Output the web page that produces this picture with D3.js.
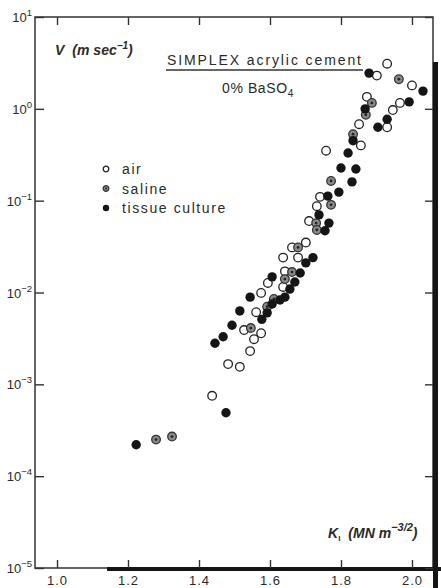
<!DOCTYPE html>
<html>
<head>
<meta charset="utf-8">
<script src="https://cdn.jsdelivr.net/npm/d3@7"></script>
<style>
  body { margin: 0; background: #fff; }
  text { font-family: "Liberation Sans", Arial, sans-serif; fill: #2a2a2a; }
</style>
</head>
<body>
<svg id="chart" width="441" height="588"></svg>
<script>
// K1 (MN m^-3/2) and crack velocity V (m/s)
const airK = [1.930, 1.901, 2.000, 1.873, 1.966, 1.946, 1.930, 1.851, 1.856, 1.758, 1.741, 1.732, 1.710, 1.701, 1.662,
  1.637, 1.679, 1.642, 1.594, 1.637, 1.575, 1.561, 1.527, 1.575, 1.555, 1.544, 1.482, 1.515, 1.437]
const airV = [3.1, 2.3, 1.8, 1.35, 1.16, 0.97, 0.63, 0.68, 0.40, 0.35, 0.11, 0.087, 0.060, 0.035, 0.031,
  0.024, 0.024, 0.017, 0.0127, 0.0115, 0.0099, 0.0061, 0.0039, 0.0036, 0.0031, 0.0023, 0.00166, 0.00155, 0.00075]

const salineK = [1.963, 1.887, 1.870, 1.834, 1.772, 1.772, 1.730, 1.732, 1.679, 1.662, 1.642, 1.611, 1.592, 1.546, 1.279, 1.324]
const salineV = [2.1, 1.16, 0.86, 0.53, 0.164, 0.090, 0.057, 0.048, 0.031, 0.0167, 0.014, 0.0085, 0.0070, 0.0041, 0.00025, 0.00027]

const tissueK = [1.879, 2.031, 1.868, 1.992, 1.930, 1.904, 1.834, 1.820, 1.800, 1.842, 1.831, 1.794, 1.763, 1.738, 1.766, 1.755,
  1.721, 1.701, 1.606, 1.685, 1.670, 1.656, 1.544, 1.642, 1.628, 1.606, 1.515, 1.592, 1.577, 1.493, 1.468, 1.445, 1.476, 1.223]
const tissueV = [2.45, 1.56, 1.0, 1.19, 0.77, 0.63, 0.45, 0.33, 0.227, 0.221, 0.160, 0.124, 0.112, 0.070, 0.057, 0.047,
  0.024, 0.021, 0.0148, 0.0163, 0.0130, 0.0109, 0.0089, 0.0089, 0.0083, 0.0075, 0.0063, 0.0060, 0.0051, 0.0044, 0.0033, 0.0028, 0.00049, 0.00022]

const xTicks = [1.0, 1.2, 1.4, 1.6, 1.8, 2.0]
const yExponents = [1, 0, -1, -2, -3, -4, -5]
const legendLabels = ['air', 'saline', 'tissue culture']

const frame = { left: 35, right: 433, top: 17, bottom: 568 }
const svg = d3.select('#chart')

const x = d3.scaleLinear().domain([0.938, 2.0592]).range([frame.left, frame.right])
const y = d3.scaleLog().domain([1e-5, 10]).range([frame.bottom, frame.top])

// frame
svg.append('rect')
  .attr('x', frame.left).attr('y', frame.top)
  .attr('width', frame.right - frame.left).attr('height', frame.bottom - frame.top)
  .attr('fill', 'none').attr('stroke', '#333').attr('stroke-width', 1.5)

// heavy edges from the scan
svg.append('rect').attr('x', 107).attr('y', frame.bottom - 1).attr('width', 441 - 107).attr('height', 4).attr('fill', '#151515')
svg.append('rect').attr('x', frame.right).attr('y', 62).attr('width', 5).attr('height', 588 - 62).attr('fill', '#151515')

const tidy = (g) => {
  g.select('.domain').remove()
  g.selectAll('.tick line').attr('stroke', '#333').attr('stroke-width', 1.4)
}

svg.append('g')
  .attr('transform', `translate(0,${frame.bottom})`)
  .call(d3.axisBottom(x).tickValues(xTicks).tickSize(-8).tickPadding(8).tickFormat(d3.format('.1f')))
  .call(tidy)
  .call((g) => g.selectAll('text').attr('font-size', 13).attr('font-family', '"Liberation Sans", Arial, sans-serif').attr('fill', '#333').attr('letter-spacing', 1))

svg.append('g')
  .attr('transform', `translate(0,${frame.top})`)
  .call(d3.axisTop(x).tickValues(xTicks).tickSize(-8).tickFormat(''))
  .call(tidy)

const yTickValues = yExponents.map((e) => Math.pow(10, e))
svg.append('g')
  .attr('transform', `translate(${frame.left},0)`)
  .call(d3.axisLeft(y).tickValues(yTickValues).tickSize(-9).tickFormat(''))
  .call(tidy)

svg.append('g')
  .attr('transform', `translate(${frame.right},0)`)
  .call(d3.axisRight(y).tickValues(yTickValues).tickSize(-8).tickFormat(''))
  .call(tidy)

// y tick labels 10^n
const yLabels = svg.append('g')
  .selectAll('text')
  .data(yExponents)
  .enter()
  .append('text')
  .attr('x', frame.left - 3)
  .attr('y', (e) => y(Math.pow(10, e)) + 5)
  .attr('text-anchor', 'end')
  .attr('font-size', 13)
  .attr('fill', '#333')
yLabels.append('tspan').text('10')
yLabels.append('tspan').attr('dy', -6).attr('font-size', 9.5).text((e) => (e < 0 ? '\u2212' + -e : String(e)))

// data
const series = [
  { name: 'air', k: airK, v: airV },
  { name: 'saline', k: salineK, v: salineV },
  { name: 'tissue culture', k: tissueK, v: tissueV },
]

function drawMarker(g, name, r) {
  if (name === 'air') {
    g.append('circle').attr('r', r).attr('fill', '#fff').attr('stroke', '#222').attr('stroke-width', 1.3)
  } else if (name === 'saline') {
    g.append('circle').attr('r', r).attr('fill', '#8a8a8a').attr('stroke', '#333').attr('stroke-width', 1.3)
    g.append('circle').attr('r', r * 0.32).attr('fill', '#222')
  } else {
    g.append('circle').attr('r', r + 0.4).attr('fill', '#151515')
  }
}

for (const s of series) {
  const pts = s.k.map((k, i) => [k, s.v[i]])
  svg.append('g')
    .selectAll('g')
    .data(pts)
    .enter()
    .append('g')
    .attr('transform', (d) => `translate(${x(d[0])},${y(d[1])})`)
    .each(function () { drawMarker(d3.select(this), s.name, 4.3) })
}

// legend
const legend = svg.append('g')
legendLabels.forEach((label, i) => {
  const cy = 169 + i * 19.5
  drawMarker(legend.append('g').attr('transform', `translate(106,${cy})`), label, 2.8)
  legend.append('text')
    .attr('x', 122).attr('y', cy + 5)
    .attr('font-size', 14).attr('letter-spacing', 1.6)
    .text(label)
})

// title
svg.append('text')
  .attr('x', 167).attr('y', 65)
  .attr('font-size', 14)
  .attr('textLength', 194).attr('lengthAdjust', 'spacing')
  .text('SIMPLEX acrylic cement')
svg.append('line')
  .attr('x1', 166).attr('x2', 363).attr('y1', 70).attr('y2', 70)
  .attr('stroke', '#333').attr('stroke-width', 1.3)

const baso = svg.append('text').attr('x', 222).attr('y', 93).attr('font-size', 14).attr('letter-spacing', 0.6)
baso.append('tspan').text('0% BaSO')
baso.append('tspan').attr('dy', 4).attr('font-size', 10).text('4')

// axis titles
const yTitle = svg.append('text')
  .attr('x', 55).attr('y', 55)
  .attr('font-size', 14).attr('font-weight', 'bold').attr('font-style', 'italic')
yTitle.append('tspan').text('V')
yTitle.append('tspan').attr('dx', 8).text('(m sec')
yTitle.append('tspan').attr('dy', -6).attr('font-size', 10).text('\u22121')
yTitle.append('tspan').attr('dy', 6).text(')')

const xTitle = svg.append('text')
  .attr('x', 328).attr('y', 538)
  .attr('font-size', 14).attr('font-weight', 'bold').attr('font-style', 'italic')
xTitle.append('tspan').text('K')
xTitle.append('tspan').attr('dy', 3).attr('font-size', 8).attr('font-style', 'normal').text('I')
xTitle.append('tspan').attr('dy', -3).attr('dx', 8).text('(MN m')
xTitle.append('tspan').attr('dy', -7).attr('font-size', 11).text('\u22123/2')
xTitle.append('tspan').attr('dy', 7).text(')')
</script>
</body>
</html>
